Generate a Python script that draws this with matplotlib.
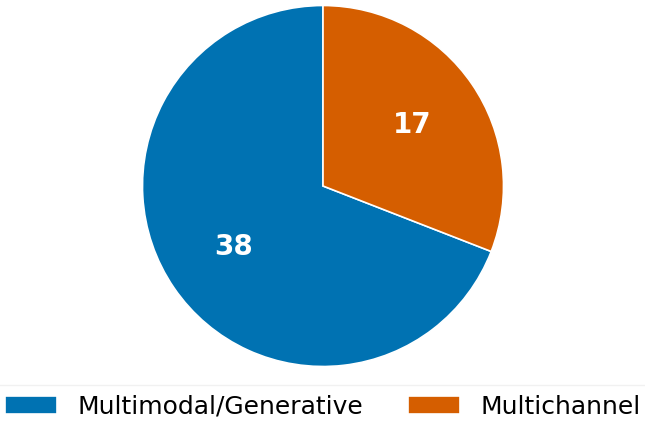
import matplotlib
matplotlib.use("Agg")
import matplotlib.pyplot as plt
import numpy as np

labels = ["Multimodal/Generative", "Multichannel"]
counts = [38, 17]
colors = ["#0072B2", "#D55E00"]

W, H = 645, 424
fig = plt.figure(figsize=(W / 100, H / 100), dpi=100)
# pie: center (323, 186) px, radius ~180 px
cx, cy, r = 323, 186, 180.5
ax = fig.add_axes([(cx - r) / W, (H - cy - r) / H, 2 * r / W, 2 * r / H])
wedges, texts = ax.pie(counts, colors=colors, startangle=90,
                       wedgeprops=dict(edgecolor="white", linewidth=1.2),
                       radius=1.0)
ax.set_xlim(-1, 1)
ax.set_ylim(-1, 1)
for w, c in zip(wedges, counts):
    ang = np.deg2rad((w.theta1 + w.theta2) / 2)
    ax.text(0.6 * np.cos(ang), 0.6 * np.sin(ang), str(c), ha="center", va="center",
            color="white", fontsize=20, fontweight="bold")

leg = fig.legend(wedges, labels, loc="lower center", ncol=2, fontsize=18,
                 bbox_to_anchor=(0.5, -0.011), frameon=True, fancybox=False,
                 handlelength=2.1, handleheight=0.75, handletextpad=0.8,
                 columnspacing=1.8, borderaxespad=0)
leg.get_frame().set_edgecolor("#eeeeee")
fig.savefig("out.png", dpi=100)
